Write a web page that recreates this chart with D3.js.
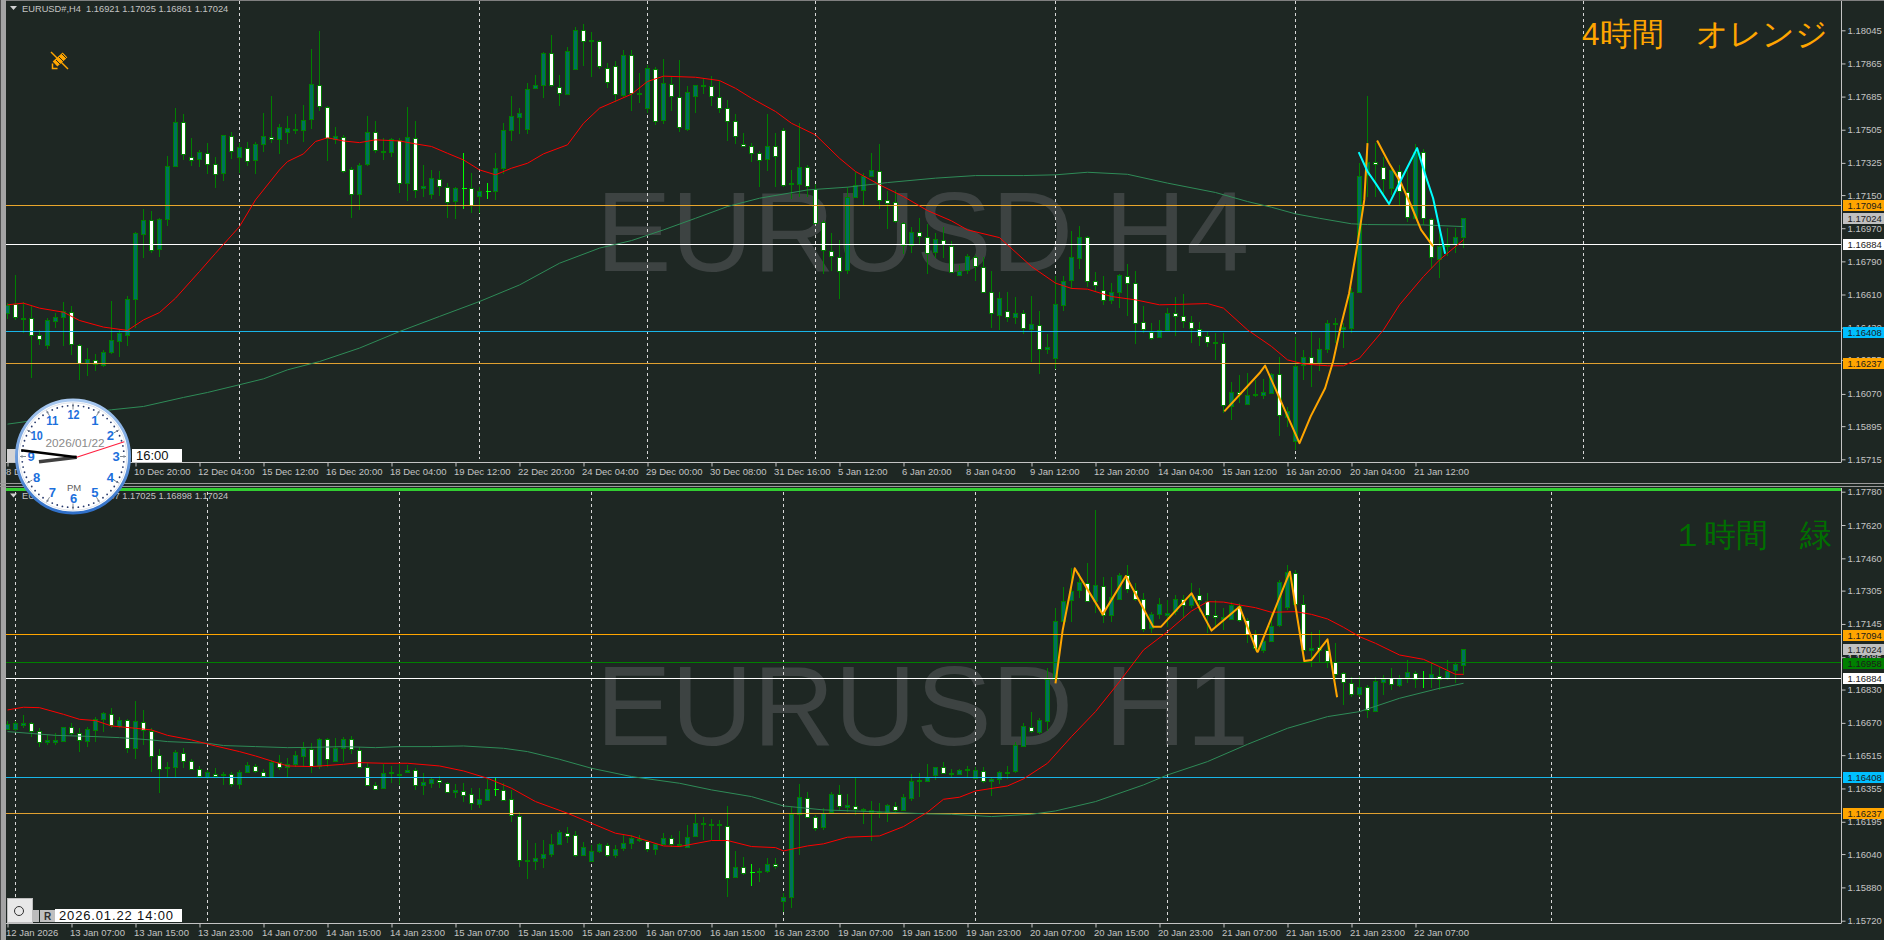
<!DOCTYPE html>
<html>
<head>
<meta charset="utf-8">
<script src="https://cdn.jsdelivr.net/npm/d3@7"></script>
<style>
html,body{margin:0;padding:0;background:#1e2723;overflow:hidden;}
svg{display:block;}
text{font-family:"Liberation Sans",Arial,sans-serif;}
</style>
</head>
<body>
<svg id="content" width="1884" height="940"></svg>
<script>
// config
const widthSvg = 1884, heightSvg = 940;
const colBg = "#1e2723", colText = "#c4c4c4", colWick = "#008000", colUp = "#006f5f", colDoji = "#00ff00";
const plotLeft = 6, plotRight = 1841;

// H4 chart. rows are open, high, low, close
const h4Bars = [
[1.16512,1.16563,1.16476,1.16554],[1.16559,1.16717,1.16472,1.16487],[1.16478,1.16567,1.16400,1.16481],[1.16481,1.16548,1.16159,1.16391],
[1.16389,1.16418,1.16337,1.16367],[1.16333,1.16481,1.16315,1.16469],[1.16463,1.16509,1.16427,1.16487],[1.16485,1.16572,1.16333,1.16518],
[1.16516,1.16545,1.16282,1.16340],[1.16337,1.16340,1.16147,1.16237],[1.16237,1.16319,1.16165,1.16259],[1.16257,1.16288,1.16196,1.16237],
[1.16228,1.16310,1.16214,1.16297],[1.16295,1.16576,1.16288,1.16362],[1.16360,1.16418,1.16268,1.16402],[1.16391,1.16603,1.16333,1.16585],
[1.16585,1.16947,1.16427,1.16943],[1.16936,1.17075,1.16807,1.17014],[1.17014,1.17061,1.16838,1.16853],[1.16856,1.17025,1.16816,1.17019],
[1.17017,1.17363,1.16983,1.17307],[1.17305,1.17622,1.17301,1.17546],[1.17546,1.17589,1.17341,1.17372],[1.17359,1.17462,1.17309,1.17345],
[1.17345,1.17396,1.17305,1.17385],[1.17381,1.17432,1.17262,1.17323],[1.17321,1.17359,1.17191,1.17269],[1.17269,1.17477,1.17224,1.17475],
[1.17473,1.17491,1.17348,1.17394],[1.17356,1.17432,1.17269,1.17410],[1.17408,1.17441,1.17310,1.17339],[1.17338,1.17441,1.17263,1.17426],
[1.17426,1.17598,1.17386,1.17472],[1.17468,1.17689,1.17432,1.17455],[1.17453,1.17537,1.17374,1.17519],[1.17490,1.17580,1.17426,1.17513],
[1.17511,1.17589,1.17482,1.17504],[1.17500,1.17640,1.17441,1.17557],[1.17562,1.17944,1.17510,1.17752],[1.17750,1.18042,1.17604,1.17634],
[1.17631,1.17634,1.17336,1.17461],[1.17453,1.17522,1.17428,1.17472],[1.17468,1.17477,1.17269,1.17285],[1.17289,1.17301,1.17028,1.17155],
[1.17153,1.17323,1.17070,1.17312],[1.17316,1.17578,1.17309,1.17491],[1.17490,1.17551,1.17377,1.17392],[1.17381,1.17459,1.17341,1.17388],
[1.17381,1.17459,1.17359,1.17452],[1.17450,1.17459,1.17160,1.17215],[1.17213,1.17627,1.17120,1.17464],[1.17462,1.17553,1.17133,1.17182],
[1.17186,1.17314,1.17142,1.17198],[1.17153,1.17287,1.17129,1.17242],[1.17240,1.17281,1.17146,1.17200],[1.17196,1.17218,1.17028,1.17117],
[1.17115,1.17196,1.17021,1.17187],[1.17187,1.17377,1.17073,1.17187],[1.17186,1.17272,1.17052,1.17091],[1.17142,1.17196,1.17052,1.17171],
[1.17171,1.17216,1.17128,1.17171],[1.17169,1.17377,1.17124,1.17296],[1.17294,1.17544,1.17265,1.17502],[1.17500,1.17689,1.17444,1.17577],
[1.17577,1.17622,1.17482,1.17598],[1.17506,1.17758,1.17482,1.17725],[1.17729,1.17803,1.17725,1.17747],[1.17745,1.17928,1.17676,1.17920],
[1.17919,1.18020,1.17739,1.17743],[1.17739,1.17803,1.17634,1.17705],[1.17701,1.17957,1.17691,1.17935],[1.17834,1.18062,1.17830,1.18045],
[1.18045,1.18080,1.17852,1.17987],[1.17986,1.18038,1.17794,1.17993],[1.17989,1.17993,1.17834,1.17852],[1.17841,1.17866,1.17730,1.17765],
[1.17853,1.17879,1.17658,1.17700],[1.17691,1.17939,1.17685,1.17910],[1.17911,1.17939,1.17607,1.17703],[1.17696,1.17812,1.17649,1.17703],
[1.17620,1.17857,1.17595,1.17839],[1.17837,1.17848,1.17531,1.17557],[1.17555,1.17888,1.17537,1.17758],[1.17756,1.17790,1.17604,1.17692],
[1.17685,1.17884,1.17490,1.17520],[1.17511,1.17743,1.17500,1.17712],[1.17685,1.17750,1.17598,1.17747],[1.17743,1.17785,1.17700,1.17747],
[1.17745,1.17797,1.17634,1.17689],[1.17685,1.17772,1.17595,1.17627],[1.17625,1.17667,1.17446,1.17557],[1.17555,1.17589,1.17428,1.17475],
[1.17430,1.17486,1.17417,1.17421],[1.17419,1.17432,1.17327,1.17383],[1.17381,1.17392,1.17196,1.17345],[1.17345,1.17589,1.17283,1.17415],
[1.17414,1.17486,1.17196,1.17357],[1.17506,1.17513,1.17196,1.17209],[1.17209,1.17287,1.17128,1.17216],[1.17211,1.17540,1.17142,1.17301],
[1.17300,1.17314,1.17142,1.17195],[1.17182,1.17209,1.16997,1.16999],[1.17003,1.17015,1.16720,1.16853],[1.16849,1.16943,1.16735,1.16824],
[1.16816,1.16907,1.16583,1.16742],[1.16742,1.17196,1.16724,1.17137],[1.17137,1.17278,1.17133,1.17204],[1.17176,1.17269,1.17097,1.17251],
[1.17251,1.17377,1.17247,1.17285],[1.17283,1.17428,1.17075,1.17128],[1.17126,1.17173,1.16968,1.17108],[1.17110,1.17178,1.16997,1.17005],
[1.17001,1.17005,1.16831,1.16880],[1.16880,1.16979,1.16834,1.16952],[1.16952,1.17025,1.16883,1.16929],[1.16925,1.16994,1.16722,1.16840],
[1.16838,1.16943,1.16807,1.16910],[1.16907,1.16979,1.16807,1.16883],[1.16871,1.16898,1.16726,1.16731],[1.16720,1.16771,1.16717,1.16740],
[1.16740,1.16831,1.16722,1.16818],[1.16816,1.16825,1.16684,1.16766],[1.16762,1.16816,1.16621,1.16624],[1.16621,1.16738,1.16427,1.16505],
[1.16500,1.16621,1.16418,1.16590],[1.16518,1.16621,1.16458,1.16487],[1.16485,1.16594,1.16451,1.16509],[1.16507,1.16527,1.16395,1.16424],
[1.16420,1.16603,1.16246,1.16449],[1.16445,1.16521,1.16176,1.16315],[1.16313,1.16396,1.16288,1.16324],[1.16264,1.16711,1.16205,1.16557],
[1.16557,1.16711,1.16523,1.16686],[1.16688,1.16956,1.16639,1.16813],[1.16813,1.16983,1.16748,1.16925],[1.16920,1.16929,1.16653,1.16681],
[1.16681,1.16731,1.16621,1.16661],[1.16637,1.16708,1.16554,1.16581],[1.16577,1.16672,1.16559,1.16621],[1.16621,1.16720,1.16536,1.16715],
[1.16713,1.16775,1.16494,1.16677],[1.16675,1.16735,1.16340,1.16456],[1.16458,1.16545,1.16400,1.16418],[1.16409,1.16454,1.16364,1.16378],
[1.16378,1.16472,1.16373,1.16416],[1.16418,1.16536,1.16409,1.16512],[1.16512,1.16595,1.16382,1.16498],[1.16491,1.16612,1.16427,1.16465],
[1.16463,1.16491,1.16346,1.16433],[1.16420,1.16463,1.16328,1.16384],[1.16382,1.16409,1.16324,1.16351],[1.16349,1.16400,1.16255,1.16353],
[1.16349,1.16400,1.15966,1.16011],[1.16009,1.16134,1.15926,1.16083],[1.16083,1.16174,1.16020,1.16074],[1.16015,1.16183,1.16011,1.16063],
[1.16062,1.16147,1.16056,1.16069],[1.16062,1.16150,1.16042,1.16080],[1.16078,1.16183,1.16074,1.16179],[1.16179,1.16270,1.15839,1.15957],
[1.15948,1.15998,1.15888,1.15980],[1.15812,1.16378,1.15767,1.16221],[1.16223,1.16310,1.16147,1.16268],[1.16268,1.16409,1.16105,1.16237],
[1.16237,1.16373,1.16197,1.16313],[1.16313,1.16472,1.16295,1.16454],[1.16451,1.16481,1.16346,1.16456],[1.16418,1.16454,1.16322,1.16431],
[1.16431,1.16644,1.16400,1.16626],[1.16626,1.17323,1.16617,1.17256],[1.17256,1.17689,1.17142,1.17327],[1.17327,1.17432,1.17142,1.17314],
[1.17305,1.17359,1.17142,1.17238],[1.17187,1.17296,1.17151,1.17285],[1.17283,1.17314,1.17097,1.17173],[1.17169,1.17287,1.17006,1.17032],
[1.17030,1.17428,1.17025,1.17386],[1.17386,1.17399,1.16988,1.17026],[1.17021,1.17025,1.16753,1.16815],[1.16802,1.16988,1.16699,1.16874],
[1.16874,1.16970,1.16820,1.16878],[1.16883,1.16970,1.16838,1.16921],[1.16921,1.17025,1.16861,1.17024]
];
const h4RedIdx = [0,2,4,7,9,12,15,17,19,21,24,26,29,31,34,35,37,38.5,40,42,44,46,49,51,53,55,57,59,61,63,65,67,70,72,74,78,80,82,86,89,91,93,96,98,101,104,106,109,112,115,118,120,124,128,131,133,135,138,141,144,147,150,152,155,158,160,162,165,167,169,172,174,177,179,182];
const h4RedVal = [1.16554,1.16563,1.16536,1.16514,1.16469,1.16433,1.16415,1.16472,1.16512,1.16590,1.16735,1.16834,1.16979,1.17124,1.17287,1.17332,1.17374,1.17441,1.17461,1.17444,1.17435,1.17450,1.17444,1.17428,1.17414,1.17377,1.17341,1.17287,1.17260,1.17296,1.17323,1.17374,1.17423,1.17540,1.17622,1.17698,1.17767,1.17796,1.17790,1.17772,1.17730,1.17676,1.17604,1.17540,1.17477,1.17350,1.17278,1.17206,1.17142,1.17066,1.17010,1.16961,1.16919,1.16762,1.16672,1.16643,1.16639,1.16599,1.16581,1.16554,1.16557,1.16561,1.16536,1.16418,1.16328,1.16255,1.16233,1.16223,1.16223,1.16264,1.16418,1.16554,1.16708,1.16798,1.16907];
const h4GreenIdx = [0,13,17,22,25,29,32,35,39,44,49,54,59,64,69,74,78,82,86,90,94,100,105,110,116,121,127,131,135,140,145,151,155,158,161,164,168,170,177,182];
const h4GreenVal = [1.15906,1.15984,1.16002,1.16051,1.16078,1.16120,1.16152,1.16201,1.16246,1.16319,1.16409,1.16491,1.16572,1.16662,1.16780,1.16862,1.16903,1.16961,1.17024,1.17088,1.17133,1.17178,1.17193,1.17218,1.17242,1.17256,1.17256,1.17260,1.17274,1.17263,1.17215,1.17164,1.17115,1.17084,1.17048,1.17024,1.16994,1.16990,1.16988,1.16979];
const h4OrangeIdx = [152.1,156.6,157.2,161.5,162.9,164.7,165.7,166.7,167.7,168.7,169.6,170];
const h4OrangeVal = [1.15975,1.16188,1.16224,1.15803,1.15948,1.16101,1.16246,1.16445,1.16617,1.16871,1.17124,1.17432];
const h4Orange2Idx = [171.2,172.7,174.2,175.5,176.7,178.2];
const h4Orange2Val = [1.17446,1.17323,1.17215,1.17088,1.16961,1.16871];
const h4CyanIdx = [168.9,170,171,172.7,174.2,176.2,177.3,178.2,179.7];
const h4CyanVal = [1.17383,1.17278,1.17215,1.17102,1.17233,1.17405,1.17251,1.17133,1.16831];
const h4GridBars = [29,59,80,101,131,161,197];
const h4TickBars = [0,8,16,24,32,40,48,56,64,72,80,88,96,104,112,120,128,136,144,152,160,168,176];
const h4TickLabels = ["8 Dec 2025","9 Dec 12:00","10 Dec 20:00","12 Dec 04:00","15 Dec 12:00","16 Dec 20:00","18 Dec 04:00","19 Dec 12:00","22 Dec 20:00","24 Dec 04:00","29 Dec 00:00","30 Dec 08:00","31 Dec 16:00","5 Jan 12:00","6 Jan 20:00","8 Jan 04:00","9 Jan 12:00","12 Jan 20:00","14 Jan 04:00","15 Jan 12:00","16 Jan 20:00","20 Jan 04:00","21 Jan 12:00"];
const h4PriceTicks = [1.18045,1.17865,1.17685,1.17505,1.17325,1.1715,1.1697,1.1679,1.1661,1.1643,1.16255,1.1607,1.15895,1.15715];

// H1 chart
const h1Bars = [
[1.16641,1.16681,1.16636,1.16663],[1.16638,1.16681,1.16633,1.16668],[1.16660,1.16708,1.16644,1.16671],[1.16671,1.16676,1.16604,1.16634],
[1.16633,1.16644,1.16556,1.16580],[1.16578,1.16612,1.16564,1.16586],[1.16578,1.16620,1.16564,1.16586],[1.16580,1.16652,1.16578,1.16649],
[1.16652,1.16671,1.16612,1.16625],[1.16623,1.16644,1.16532,1.16588],[1.16580,1.16649,1.16556,1.16639],[1.16633,1.16700,1.16580,1.16687],
[1.16686,1.16724,1.16628,1.16716],[1.16714,1.16740,1.16644,1.16660],[1.16655,1.16700,1.16644,1.16682],[1.16682,1.16687,1.16527,1.16548],
[1.16546,1.16775,1.16495,1.16678],[1.16676,1.16732,1.16564,1.16636],[1.16633,1.16644,1.16436,1.16514],[1.16518,1.16543,1.16335,1.16452],
[1.16454,1.16482,1.16412,1.16457],[1.16455,1.16540,1.16412,1.16529],[1.16527,1.16548,1.16452,1.16487],[1.16489,1.16495,1.16447,1.16452],
[1.16450,1.16463,1.16404,1.16418],[1.16409,1.16444,1.16399,1.16433],[1.16426,1.16452,1.16409,1.16415],[1.16418,1.16436,1.16372,1.16423],
[1.16425,1.16436,1.16364,1.16375],[1.16374,1.16444,1.16353,1.16433],[1.16431,1.16484,1.16428,1.16466],[1.16463,1.16473,1.16431,1.16438],
[1.16434,1.16447,1.16409,1.16414],[1.16412,1.16492,1.16409,1.16482],[1.16482,1.16516,1.16444,1.16458],[1.16455,1.16500,1.16412,1.16471],
[1.16470,1.16537,1.16460,1.16514],[1.16513,1.16577,1.16463,1.16550],[1.16546,1.16572,1.16431,1.16466],[1.16465,1.16598,1.16447,1.16594],
[1.16594,1.16598,1.16460,1.16497],[1.16489,1.16596,1.16484,1.16551],[1.16553,1.16601,1.16484,1.16594],[1.16594,1.16609,1.16521,1.16545],
[1.16542,1.16556,1.16452,1.16460],[1.16460,1.16476,1.16372,1.16375],[1.16374,1.16388,1.16348,1.16356],[1.16354,1.16473,1.16351,1.16428],
[1.16428,1.16463,1.16380,1.16433],[1.16422,1.16479,1.16372,1.16425],[1.16431,1.16468,1.16428,1.16442],[1.16444,1.16452,1.16348,1.16370],
[1.16369,1.16428,1.16324,1.16385],[1.16378,1.16412,1.16356,1.16399],[1.16398,1.16415,1.16356,1.16386],[1.16383,1.16388,1.16335,1.16342],
[1.16338,1.16377,1.16308,1.16348],[1.16345,1.16380,1.16292,1.16327],[1.16327,1.16356,1.16252,1.16284],[1.16278,1.16356,1.16260,1.16303],
[1.16300,1.16399,1.16295,1.16351],[1.16350,1.16404,1.16319,1.16350],[1.16350,1.16380,1.16300,1.16303],[1.16302,1.16348,1.16196,1.16223],
[1.16223,1.16244,1.15980,1.16012],[1.16004,1.16108,1.15921,1.16010],[1.16004,1.16092,1.15964,1.16020],[1.16018,1.16108,1.15975,1.16039],
[1.16038,1.16137,1.16028,1.16087],[1.16087,1.16156,1.16084,1.16145],[1.16143,1.16169,1.16092,1.16130],[1.16132,1.16151,1.16028,1.16038],
[1.16038,1.16100,1.16031,1.16076],[1.16009,1.16084,1.16007,1.16057],[1.16052,1.16095,1.16047,1.16086],[1.16084,1.16092,1.16025,1.16034],
[1.16034,1.16084,1.16020,1.16063],[1.16068,1.16132,1.16057,1.16092],[1.16092,1.16132,1.16063,1.16116],[1.16114,1.16132,1.16100,1.16108],
[1.16102,1.16108,1.16052,1.16063],[1.16063,1.16092,1.16036,1.16087],[1.16089,1.16140,1.16087,1.16116],[1.16116,1.16132,1.16076,1.16086],
[1.16086,1.16151,1.16076,1.16081],[1.16076,1.16180,1.16073,1.16124],[1.16124,1.16231,1.16121,1.16188],[1.16186,1.16220,1.16108,1.16190],
[1.16182,1.16207,1.16108,1.16185],[1.16178,1.16204,1.16108,1.16183],[1.16177,1.16271,1.15836,1.15929],[1.15929,1.16055,1.15927,1.15977],
[1.15980,1.16025,1.15940,1.15953],[1.15953,1.15993,1.15887,1.15953],[1.15953,1.15972,1.15908,1.15958],[1.15958,1.16020,1.15951,1.15991],
[1.15991,1.16023,1.15967,1.15983],[1.15812,1.15855,1.15764,1.15833],[1.15836,1.16268,1.15783,1.16233],[1.16233,1.16377,1.16036,1.16316],
[1.16311,1.16340,1.16217,1.16220],[1.16220,1.16228,1.16153,1.16169],[1.16172,1.16260,1.16156,1.16239],[1.16239,1.16340,1.16236,1.16327],
[1.16326,1.16372,1.16252,1.16268],[1.16265,1.16329,1.16244,1.16274],[1.16273,1.16404,1.16228,1.16257],[1.16254,1.16260,1.16183,1.16247],
[1.16241,1.16295,1.16105,1.16250],[1.16241,1.16284,1.16212,1.16242],[1.16239,1.16279,1.16196,1.16274],[1.16273,1.16292,1.16244,1.16252],
[1.16255,1.16329,1.16252,1.16316],[1.16313,1.16423,1.16297,1.16393],[1.16391,1.16431,1.16316,1.16394],[1.16393,1.16473,1.16388,1.16412],
[1.16418,1.16460,1.16396,1.16457],[1.16457,1.16484,1.16423,1.16430],[1.16425,1.16447,1.16412,1.16428],[1.16426,1.16447,1.16420,1.16446],
[1.16444,1.16463,1.16409,1.16447],[1.16409,1.16457,1.16404,1.16446],[1.16439,1.16457,1.16380,1.16391],[1.16388,1.16404,1.16321,1.16399],
[1.16398,1.16441,1.16377,1.16433],[1.16431,1.16463,1.16399,1.16436],[1.16436,1.16580,1.16431,1.16562],[1.16561,1.16668,1.16556,1.16655],
[1.16652,1.16721,1.16620,1.16631],[1.16623,1.16692,1.16617,1.16682],[1.16678,1.16932,1.16633,1.16879],[1.16879,1.17220,1.16876,1.17158],
[1.17161,1.17324,1.17148,1.17257],[1.17260,1.17412,1.17156,1.17305],[1.17308,1.17388,1.17268,1.17345],[1.17343,1.17436,1.17252,1.17255],
[1.17252,1.17692,1.17196,1.17330],[1.17329,1.17369,1.17148,1.17191],[1.17191,1.17372,1.17156,1.17276],[1.17268,1.17388,1.17263,1.17382],
[1.17380,1.17428,1.17292,1.17313],[1.17308,1.17340,1.17257,1.17263],[1.17263,1.17292,1.17108,1.17119],[1.17126,1.17204,1.17103,1.17191],
[1.17191,1.17268,1.17167,1.17239],[1.17190,1.17260,1.17132,1.17199],[1.17209,1.17284,1.17188,1.17266],[1.17265,1.17284,1.17172,1.17236],
[1.17234,1.17340,1.17220,1.17284],[1.17286,1.17316,1.17204,1.17260],[1.17257,1.17292,1.17103,1.17188],[1.17186,1.17260,1.17124,1.17178],
[1.17169,1.17220,1.17116,1.17178],[1.17167,1.17252,1.17164,1.17236],[1.17233,1.17244,1.17156,1.17167],[1.17164,1.17172,1.17052,1.17097],
[1.17097,1.17116,1.17017,1.17031],[1.17020,1.17068,1.17007,1.17065],[1.17065,1.17199,1.17060,1.17137],[1.17137,1.17356,1.17132,1.17345],
[1.17228,1.17428,1.17212,1.17394],[1.17391,1.17404,1.17220,1.17244],[1.17242,1.17284,1.17012,1.17020],[1.17017,1.17108,1.16940,1.17028],
[1.17036,1.17116,1.16964,1.17023],[1.17020,1.17068,1.16932,1.16967],[1.16961,1.17052,1.16876,1.16905],[1.16911,1.16916,1.16756,1.16866],
[1.16863,1.16892,1.16796,1.16812],[1.16806,1.16892,1.16796,1.16841],[1.16841,1.16852,1.16695,1.16729],[1.16726,1.16892,1.16722,1.16870],
[1.16868,1.16900,1.16804,1.16882],[1.16884,1.16932,1.16828,1.16857],[1.16854,1.16900,1.16844,1.16887],[1.16887,1.16972,1.16860,1.16913],
[1.16911,1.16921,1.16836,1.16881],[1.16881,1.16919,1.16836,1.16881],[1.16884,1.16964,1.16836,1.16903],[1.16897,1.16940,1.16828,1.16884],
[1.16887,1.16972,1.16876,1.16921],[1.16921,1.16964,1.16860,1.16951],[1.16947,1.17025,1.16898,1.17024]
];
const h1RedIdx = [0,2,4,7,9,11,13,16,18,20,23,26,29,31,33,35,38,42,44,47,50,54,57,60,63,66,70,73,76,78,82,84,88,90,93,96,97,100,102,105,109,112,115,117,119,121,125,127,130,133,136,139,142,145,148,150,152,154,156,158,161,163,165,167,169,171,174,177,179,181,182];
const h1RedVal = [1.16732,1.16745,1.16743,1.16711,1.16687,1.16681,1.16655,1.16644,1.16636,1.16610,1.16588,1.16559,1.16532,1.16511,1.16487,1.16463,1.16460,1.16471,1.16479,1.16476,1.16476,1.16463,1.16439,1.16404,1.16356,1.16292,1.16236,1.16188,1.16140,1.16127,1.16079,1.16076,1.16105,1.16105,1.16076,1.16071,1.16055,1.16079,1.16089,1.16121,1.16127,1.16172,1.16241,1.16303,1.16313,1.16343,1.16367,1.16401,1.16476,1.16604,1.16724,1.16868,1.17020,1.17108,1.17207,1.17252,1.17250,1.17236,1.17223,1.17201,1.17204,1.17191,1.17169,1.17129,1.17084,1.17052,1.16996,1.16975,1.16940,1.16903,1.16903];
const h1GreenIdx = [0,6,11,14,18,20,25,27,31,35,39,42,46,49,53,57,62,65,69,73,78,84,88,93,97,102,108,115,118,123,128,131,136,142,145,150,155,160,165,169,174,179,182];
const h1GreenVal = [1.16628,1.16610,1.16604,1.16599,1.16588,1.16580,1.16572,1.16561,1.16556,1.16551,1.16553,1.16556,1.16551,1.16556,1.16556,1.16559,1.16548,1.16532,1.16495,1.16452,1.16412,1.16380,1.16348,1.16316,1.16271,1.16252,1.16244,1.16233,1.16231,1.16220,1.16231,1.16247,1.16292,1.16372,1.16420,1.16484,1.16567,1.16644,1.16700,1.16724,1.16788,1.16836,1.16860];
const h1OrangeIdx = [131,131.9,133.4,136.9,139.8,143.2,144.2,148,150.5,154,156.2,156.3,160.3,162.1,163,165,166.2];
const h1OrangeVal = [1.16860,1.17116,1.17412,1.17191,1.17375,1.17132,1.17132,1.17292,1.17113,1.17228,1.17012,1.17012,1.17396,1.16967,1.16972,1.17071,1.16793];
const h1GridBars = [1,25,49,73,97,121,145,169,193];
const h1TickBars = [0,8,16,24,32,40,48,56,64,72,80,88,96,104,112,120,128,136,144,152,160,168,176];
const h1TickLabels = ["12 Jan 2026","13 Jan 07:00","13 Jan 15:00","13 Jan 23:00","14 Jan 07:00","14 Jan 15:00","14 Jan 23:00","15 Jan 07:00","15 Jan 15:00","15 Jan 23:00","16 Jan 07:00","16 Jan 15:00","16 Jan 23:00","19 Jan 07:00","19 Jan 15:00","19 Jan 23:00","20 Jan 07:00","20 Jan 15:00","20 Jan 23:00","21 Jan 07:00","21 Jan 15:00","21 Jan 23:00","22 Jan 07:00"];
const h1PriceTicks = [1.1778,1.1762,1.1746,1.17305,1.17145,1.16985,1.1683,1.1667,1.16515,1.16355,1.16195,1.1604,1.1588,1.1572];

// horizontal levels, price then colours
const h4Levels = [[1.17094,"#e8a62c"],[1.16884,"#ffffff"],[1.16408,"#19b5e8"],[1.16237,"#e0a030"]];
const h1Levels = [[1.17094,"#ffa500"],[1.16958,"#008000"],[1.16884,"#ffffff"],[1.16408,"#19b5e8"],[1.16237,"#e0a030"]];
const h4Tags = [[1.17094,"#ffa500"],[1.17024,"#c0c0c0"],[1.16884,"#ffffff"],[1.16408,"#00bfff"],[1.16237,"#ffa500"]];
const h1Tags = [[1.17094,"#ffa500"],[1.17024,"#c0c0c0"],[1.16958,"#008000"],[1.16884,"#ffffff"],[1.16408,"#00bfff"],[1.16237,"#ffa500"]];

// clock
const clockHour = 8, clockMinute = 46, clockSecond = 12;
const clockNumbers = [12,1,2,3,4,5,6,7,8,9,10,11];

const svg = d3.select("#content");
svg.append("rect").attr("width",widthSvg).attr("height",heightSvg).attr("fill",colBg);

function drawPanel(p){
    const x = d3.scaleLinear().domain([0,182]).range([7.5,1463.5]);
    const y = d3.scaleLinear().domain(p.priceDomain).range(p.yRange);
    const g = svg.append("g");
    const clipId = "clip"+p.name;
    svg.append("clipPath").attr("id",clipId).append("rect")
        .attr("x",plotLeft).attr("y",p.top).attr("width",plotRight-plotLeft).attr("height",p.bottom-p.top);
    const plot = g.append("g").attr("clip-path","url(#"+clipId+")");

    // watermark
    plot.append("text").attr("x",596).attr("y",p.markY).attr("font-size",113).attr("fill","#3d4342").text(p.mark);

    // grid
    plot.selectAll(".grid").data(p.gridBars).join("line").attr("class","grid")
        .attr("x1",d=>x(d)).attr("x2",d=>x(d)).attr("y1",p.gridTop).attr("y2",p.gridBottom)
        .attr("stroke","#d8d8d8").attr("stroke-dasharray","3,3").attr("shape-rendering","crispEdges");

    // candles
    const bars = plot.append("g").attr("shape-rendering","crispEdges");
    bars.selectAll(".wick").data(p.bars).join("line").attr("class","wick")
        .attr("x1",(d,i)=>x(i)).attr("x2",(d,i)=>x(i))
        .attr("y1",d=>y(d[1])).attr("y2",d=>y(d[2]))
        .attr("stroke",d=>d[0]===d[3]?colDoji:colWick);
    bars.selectAll(".body").data(p.bars.filter(d=>d[0]!==d[3])).join("rect").attr("class","body")
        .attr("x",d=>x(p.bars.indexOf(d))-2).attr("width",4)
        .attr("y",d=>Math.round(y(Math.max(d[0],d[3])))+0.5)
        .attr("height",d=>Math.max(1,Math.round(Math.abs(y(d[0])-y(d[3])))))
        .attr("fill",d=>d[3]>d[0]?colUp:"#ffffff")
        .attr("stroke",colWick);
    bars.selectAll(".doji").data(p.bars.filter(d=>d[0]===d[3])).join("line").attr("class","doji")
        .attr("x1",d=>x(p.bars.indexOf(d))-2).attr("x2",d=>x(p.bars.indexOf(d))+3)
        .attr("y1",d=>y(d[0])).attr("y2",d=>y(d[0])).attr("stroke",colDoji);

    // levels
    plot.selectAll(".level").data(p.levels).join("line").attr("class","level")
        .attr("x1",plotLeft).attr("x2",plotRight).attr("y1",d=>y(d[0])).attr("y2",d=>y(d[0]))
        .attr("stroke",d=>d[1]).attr("shape-rendering","crispEdges");

    // averages and zigzag lines
    const line = d3.line().x(d=>x(d[0])).y(d=>y(d[1]));
    p.lines.forEach(l=>{
        plot.append("path").attr("d",line(d3.zip(l.idx,l.val))).attr("fill","none")
            .attr("stroke",l.color).attr("stroke-width",l.width).attr("stroke-linejoin","round");
    });

    // axes
    const axisY = d3.axisRight(y).tickValues(p.priceTicks).tickFormat(d3.format(".5f")).tickSize(4).tickPadding(2);
    const gy = g.append("g").attr("transform","translate("+(plotRight+0.5)+",0)").call(axisY);
    gy.select(".domain").remove();
    gy.selectAll("line").attr("stroke",colText);
    gy.selectAll("text").attr("fill",colText).attr("font-size",9.5);
    g.append("line").attr("x1",plotRight+0.5).attr("x2",plotRight+0.5).attr("y1",p.axisTop).attr("y2",p.bottom+0.5).attr("stroke",colText);

    const axisX = d3.axisBottom(x).tickValues(p.tickBars).tickFormat((d,i)=>p.tickLabels[i]).tickSize(4).tickPadding(2);
    const gx = g.append("g").attr("transform","translate(0,"+(p.bottom+0.5)+")").call(axisX);
    gx.select(".domain").remove();
    gx.selectAll("line").attr("stroke",colText);
    gx.selectAll("text").attr("fill",colText).attr("font-size",9.5).attr("text-anchor","start").attr("x",-2);
    g.append("line").attr("x1",plotLeft).attr("x2",plotRight).attr("y1",p.bottom+0.5).attr("y2",p.bottom+0.5).attr("stroke",colText);

    // price tags
    const tags = g.selectAll(".tag").data(p.tags).join("g").attr("class","tag")
        .attr("transform",d=>"translate(1843,"+Math.round(y(d[0]))+")");
    tags.append("rect").attr("x",0).attr("y",-5).attr("width",41).attr("height",11).attr("fill",d=>d[1]);
    tags.append("text").attr("x",4.5).attr("y",3.8).attr("font-size",9.5)
        .attr("fill","#1c1c1c").text(d=>d[0].toFixed(5));

    // header
    g.append("path").attr("d","M"+10+" "+(p.headY-2)+"h7l-3.5 4z").attr("fill","#d0d0d0");
    g.append("text").attr("x",22).attr("y",p.headY+3.5).attr("font-size",9.3).attr("fill",colText)
        .attr("xml:space","preserve").text(p.head);

    // big note
    g.append("text").attr("x",p.noteX).attr("y",p.noteY).attr("font-size",p.noteSize)
        .attr("font-family","'Noto Sans CJK JP'").attr("font-weight",300).attr("fill",p.noteColor).text(p.note);
}

drawPanel({
    name:"h4", bars:h4Bars, priceDomain:[1.15715,1.18045], yRange:[459.3,30.3],
    top:1, bottom:462, axisTop:1, gridTop:1, gridBottom:459, gridBars:h4GridBars,
    mark:"EURUSD H4", markY:271, levels:h4Levels, tags:h4Tags, priceTicks:h4PriceTicks,
    tickBars:h4TickBars, tickLabels:h4TickLabels,
    head:"EURUSD#,H4  1.16921 1.17025 1.16861 1.17024", headY:8,
    note:"4時間　オレンジ", noteX:1582, noteY:45, noteSize:31.5, noteColor:"#ffa500",
    lines:[
        {idx:h4GreenIdx,val:h4GreenVal,color:"#2e8b57",width:1},
        {idx:h4RedIdx,val:h4RedVal,color:"#ff0000",width:1},
        {idx:h4OrangeIdx,val:h4OrangeVal,color:"#ffa500",width:2},
        {idx:h4Orange2Idx,val:h4Orange2Val,color:"#ffa500",width:2},
        {idx:h4CyanIdx,val:h4CyanVal,color:"#00ffff",width:2}
    ]
});
drawPanel({
    name:"h1", bars:h1Bars, priceDomain:[1.1572,1.1778], yRange:[920.7,491.7],
    top:488, bottom:923, axisTop:488, gridTop:492, gridBottom:922, gridBars:h1GridBars,
    mark:"EURUSD H1", markY:744.5, levels:h1Levels, tags:h1Tags, priceTicks:h1PriceTicks,
    tickBars:h1TickBars, tickLabels:h1TickLabels,
    head:"EURUSD#,H1  1.16947 1.17025 1.16898 1.17024", headY:495.5,
    note:"１時間　緑", noteX:1672, noteY:546, noteSize:31.5, noteColor:"#006f00",
    lines:[
        {idx:h1GreenIdx,val:h1GreenVal,color:"#2e8b57",width:1},
        {idx:h1RedIdx,val:h1RedVal,color:"#ff0000",width:1},
        {idx:h1OrangeIdx,val:h1OrangeVal,color:"#ffa500",width:2}
    ]
});

// window chrome
const chrome = svg.append("g").attr("shape-rendering","crispEdges");
chrome.append("rect").attr("x",0).attr("y",0).attr("width",widthSvg).attr("height",1).attr("fill","#808080");
chrome.append("rect").attr("x",0).attr("y",0).attr("width",1).attr("height",heightSvg).attr("fill","#505050");
chrome.append("rect").attr("x",1).attr("y",0).attr("width",5).attr("height",heightSvg).attr("fill","#a4a4a4");
chrome.append("rect").attr("x",0).attr("y",483).attr("width",widthSvg).attr("height",1).attr("fill","#9a9a9a");
chrome.append("rect").attr("x",0).attr("y",486).attr("width",widthSvg).attr("height",1).attr("fill","#9a9a9a");
chrome.append("rect").attr("x",6).attr("y",488).attr("width",plotRight-6).attr("height",3).attr("fill","#32cd32");

// little pencil object
const pen = svg.append("g").attr("fill","none");
pen.append("path").attr("d","M51 52L68 69").attr("stroke","#ffa500").attr("stroke-width",1.5);
pen.append("path").attr("d","M55 64L65 55").attr("stroke","#ffa500").attr("stroke-width",7);
pen.append("path").attr("d","M56 60L62 66M59 57L65 63M62 54L68 60").attr("stroke",colBg).attr("stroke-width",1);
pen.append("path").attr("d","M52.5 63.5v5h5").attr("stroke","#ffa500").attr("stroke-width",1.5);

// bottom left widgets
const w = svg.append("g").attr("shape-rendering","crispEdges");
w.append("rect").attr("x",132).attr("y",449).attr("width",50).attr("height",13).attr("fill","#ffffff");
w.append("rect").attr("x",7).attr("y",449).attr("width",20).attr("height",13).attr("fill","#d4d4d4");
w.append("rect").attr("x",7).attr("y",898).attr("width",25).attr("height",24).attr("fill","#e8e8e8").attr("stroke","#bdbdbd");
w.append("rect").attr("x",32).attr("y",910).attr("width",7).attr("height",12).attr("fill","#bcbcbc");
w.append("rect").attr("x",40).attr("y",910).attr("width",15).attr("height",12).attr("fill","#c0c0c0");
w.append("rect").attr("x",55).attr("y",909).attr("width",127).attr("height",13).attr("fill","#ffffff");
svg.append("circle").attr("cx",19).attr("cy",911).attr("r",4.5).attr("fill","none").attr("stroke","#303030");
svg.append("text").attr("x",44).attr("y",920).attr("font-size",10).attr("font-weight","bold").attr("fill","#303030").text("R");
svg.append("text").attr("x",136).attr("y",459.5).attr("font-size",13).attr("font-family","'DejaVu Sans Mono'").attr("fill","#101010").text("16:00");
svg.append("text").attr("x",59).attr("y",920).attr("font-size",13).attr("font-family","'DejaVu Sans Mono'").attr("textLength",114).attr("fill","#101010").text("2026.01.22 14:00");

// clock
const cx = 73, cy = 456.5, pivotX = 3.7, pivotY = 0.7;
const defs = svg.append("defs");
const grad = defs.append("linearGradient").attr("id","ring").attr("x1",0).attr("y1",0).attr("x2",0).attr("y2",1);
grad.append("stop").attr("offset",0).attr("stop-color","#a9c9f0");
grad.append("stop").attr("offset",1).attr("stop-color","#2f6fc8");
const clock = svg.append("g").attr("transform","translate("+cx+","+cy+")");
clock.append("circle").attr("r",56.5).attr("fill","#ffffff").attr("stroke","url(#ring)").attr("stroke-width",3);
clock.append("circle").attr("r",54).attr("fill","none").attr("stroke","#dfe3ea").attr("stroke-width",1);
const minuteDots = d3.range(60);
const rad = d=>(d-90)*Math.PI/180;
clock.selectAll(".dot").data(minuteDots).join("circle").attr("class","dot")
    .attr("cx",d=>51*Math.cos(rad(d*6))).attr("cy",d=>51*Math.sin(rad(d*6)))
    .attr("r",0.9).attr("fill","#26386b");
clock.selectAll(".hourTick").data(clockNumbers).join("line").attr("class","hourTick")
    .attr("x1",d=>47*Math.cos(rad(d*30))).attr("y1",d=>47*Math.sin(rad(d*30)))
    .attr("x2",d=>53*Math.cos(rad(d*30))).attr("y2",d=>53*Math.sin(rad(d*30)))
    .attr("stroke","#808890");
clock.selectAll(".num").data(clockNumbers).join("text").attr("class","num")
    .attr("x",d=>0.5+42.5*Math.cos(rad(d*30))).attr("y",d=>4.6+42*Math.sin(rad(d*30)))
    .attr("text-anchor","middle").attr("font-size",13).attr("font-weight","bold").attr("fill","#1c6fdc")
    .each(function(d){ if(d>9) d3.select(this).attr("textLength",12).attr("lengthAdjust","spacingAndGlyphs"); })
    .text(d=>d);
clock.append("text").attr("x",2).attr("y",-10).attr("text-anchor","middle").attr("font-size",11.8).attr("fill","#8a8a8a").text("2026/01/22");
clock.append("text").attr("x",1).attr("y",34.7).attr("text-anchor","middle").attr("font-size",9.5).attr("font-family","'Liberation Serif'").attr("fill","#606060").text("PM");
function hand(deg,len,width,color){
    const a = rad(deg);
    clock.append("line").attr("x1",pivotX).attr("y1",pivotY)
        .attr("x2",pivotX+len*Math.cos(a)).attr("y2",pivotY+len*Math.sin(a))
        .attr("stroke",color).attr("stroke-width",width);
}
hand((clockHour+clockMinute/60)*30,38,3.5,"#404040");
hand((clockMinute+clockSecond/60)*6,56,2.5,"#000000");
hand(clockSecond*6,50,1.2,"#ff2040");
</script>
</body>
</html>
